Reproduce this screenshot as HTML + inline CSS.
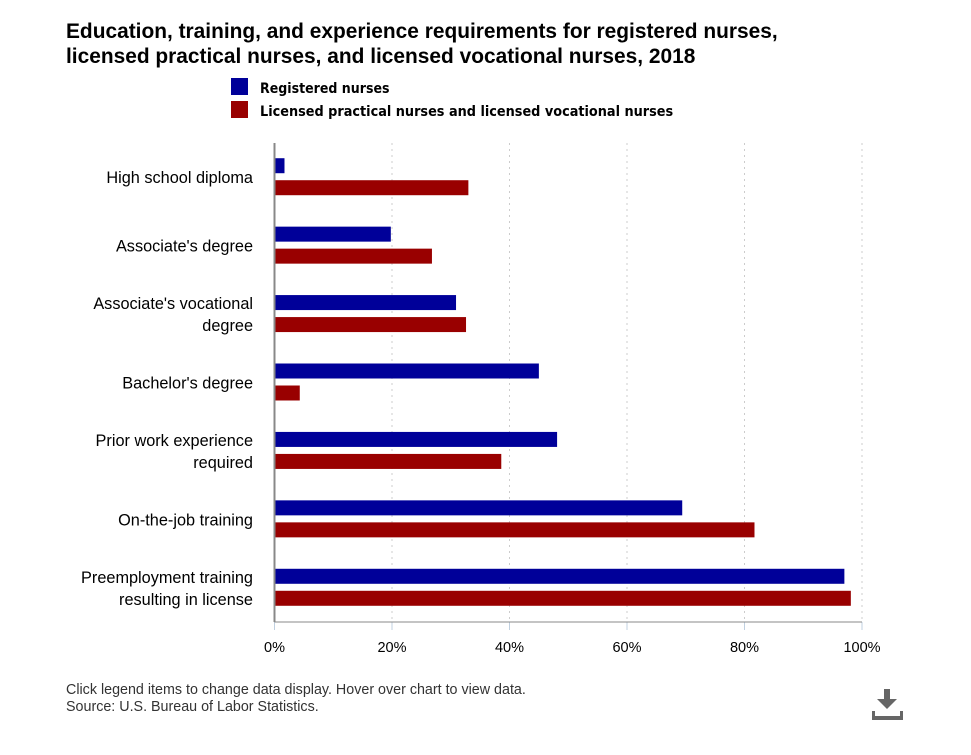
<!DOCTYPE html>
<html><head><meta charset="utf-8"><style>
body{margin:0;background:#fff;width:971px;height:750px;overflow:hidden;font-family:"Liberation Sans",sans-serif}
svg text{font-family:"Liberation Sans",sans-serif}
</style></head><body>
<svg id="c" width="971" height="750">
<text x="66" y="38" font-size="20.9" font-weight="bold" fill="#000">Education, training, and experience requirements for registered nurses,</text>
<text x="66" y="63" font-size="20.9" font-weight="bold" fill="#000">licensed practical nurses, and licensed vocational nurses, 2018</text>
<g><rect x="231" y="78" width="17" height="17" fill="#000099"/><text x="260" y="93" font-size="14" font-weight="bold" style="font-family:'DejaVu Sans Condensed',sans-serif">Registered nurses</text></g>
<g><rect x="231" y="101" width="17" height="17" fill="#990000"/><text x="260" y="116" font-size="14.3" font-weight="bold" style="font-family:'DejaVu Sans Condensed',sans-serif">Licensed practical nurses and licensed vocational nurses</text></g>
<g id="plot"></g>
<text x="66" y="694" font-size="14.3" fill="#333">Click legend items to change data display. Hover over chart to view data.</text>
<text x="66" y="711" font-size="14.3" fill="#333">Source: U.S. Bureau of Labor Statistics.</text>
<g><rect x="884" y="689" width="6" height="10" fill="#666"/><polygon points="877,699 897,699 887,709" fill="#666"/><rect x="872" y="716" width="31" height="4" fill="#666"/><rect x="872" y="711" width="3" height="6" fill="#666"/><rect x="900" y="711" width="3" height="6" fill="#666"/></g>
</svg>
<script>
const categories=[["High school diploma"],["Associate's degree"],["Associate's vocational","degree"],["Bachelor's degree"],["Prior work experience","required"],["On-the-job training"],["Preemployment training","resulting in license"]];
const rnValues=[1.7,19.8,30.9,45.0,48.1,69.4,97.0];
const lpnValues=[33.0,26.8,32.6,4.3,38.6,81.7,98.1];
const tickValues=[0,20,40,60,80,100];
const tickLabels=["0%","20%","40%","60%","80%","100%"];
const NS="http://www.w3.org/2000/svg";
const g=document.getElementById('plot');
const x0=274.5,x1=862,yTop=143,yBot=622;
const xs=v=>x0+(x1-x0)*v/100;
const band=(yBot-yTop)/categories.length;
function mk(t,a){const e=document.createElementNS(NS,t);for(const k in a)e.setAttribute(k,a[k]);g.appendChild(e);return e;}
tickValues.forEach((v,i)=>{
  if(v>0){const l=mk('line',{x1:xs(v),x2:xs(v),y1:yTop,y2:yBot,stroke:'#ccc','stroke-dasharray':'2,4'});
  
  }
  const tk=mk('line',{x1:xs(v),x2:xs(v),y1:yBot,y2:yBot+8,stroke:'#c0d0e0'});
  
  
  const t=mk('text',{x:xs(v),y:yBot+30,'font-size':14.5,'text-anchor':'middle',fill:'#000'});
  t.textContent=tickLabels[i];
  
  
});
categories.forEach((c,i)=>{
  const cy=yTop+band*i+band/2+1;
  const r=mk('rect',{x:x0,y:cy-20,width:xs(rnValues[i])-x0,height:15,fill:'#000099'});
  
  
  const p=mk('rect',{x:x0,y:cy+2,width:xs(lpnValues[i])-x0,height:15,fill:'#990000'});
  
  
  c.forEach((line,j)=>{
    const t=mk('text',{x:253,y:cy+5+(j-(c.length-1)/2)*22,'font-size':16.3,'text-anchor':'end',fill:'#000'});
    t.textContent=line;
    
    
  });
});
const ax=mk('line',{x1:x0,x2:x0,y1:yTop,y2:yBot,stroke:'#888','stroke-width':2});


const bx=mk('line',{x1:x0,x2:x1,y1:yBot,y2:yBot,stroke:'#888','stroke-width':1});


</script>
</body></html>
